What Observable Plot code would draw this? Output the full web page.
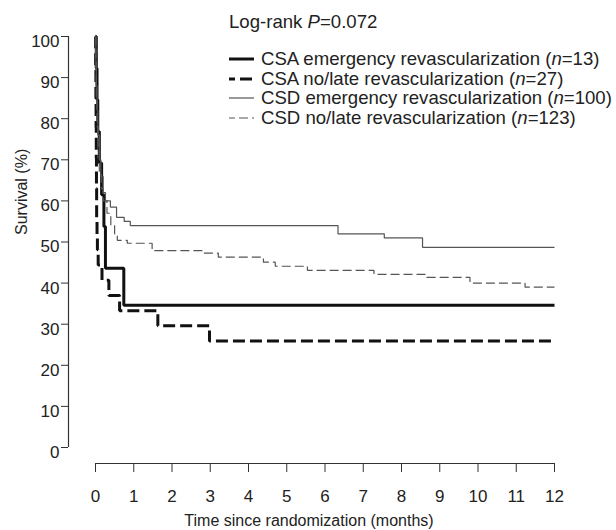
<!DOCTYPE html>
<html>
<head>
<meta charset="utf-8">
<script src="https://cdn.jsdelivr.net/npm/d3@7"></script>
<script src="https://cdn.jsdelivr.net/npm/@observablehq/plot@0.6"></script>
<style>
  html, body { margin: 0; padding: 0; background: #fff; }
  #wrap { position: relative; width: 616px; height: 530px; font-family: "Liberation Sans", Arial, Helvetica, sans-serif; color: #222; }
  #legend { position: absolute; left: 0; top: 0; width: 616px; height: 140px; pointer-events: none; }
  .lg { position: absolute; font-size: 18.6px; line-height: 19px; white-space: nowrap; }
  .sw { position: absolute; }
</style>
</head>
<body>
<div id="wrap"><div id="legend"></div></div>
<script>
// ---- data ----
const xDomain = [0, 12];
const yDomain = [0, 100];
const xTicks = [0, 1, 2, 3, 4, 5, 6, 7, 8, 9, 10, 11, 12];
const yTicks = [0, 10, 20, 30, 40, 50, 60, 70, 80, 90, 100];

const seriesNames = [
  "CSA emergency revascularization",
  "CSA no/late revascularization",
  "CSD emergency revascularization",
  "CSD no/late revascularization"
];
const seriesN = [13, 27, 100, 123];
const logRankP = "0.072";

const csaEmergT = [0, 0.02, 0.04, 0.06, 0.10, 0.16, 0.22, 0.26, 0.74, 12];
const csaEmergS = [100, 92.3, 84.6, 76.9, 69.2, 61.5, 53.8, 43.6, 34.6, 34.6];

const csaLateT = [0, 0.005, 0.01, 0.015, 0.02, 0.025, 0.03, 0.04, 0.05, 0.07, 0.17, 0.35, 0.63, 1.63, 2.98, 12];
const csaLateS = [100, 92.6, 85.2, 77.8, 70.4, 63.0, 55.6, 51.9, 48.1, 44.4, 40.7, 37.0, 33.3, 29.6, 25.9, 25.9];

const csdEmergT = [0, 0.01, 0.02, 0.04, 0.06, 0.10, 0.14, 0.20, 0.26, 0.39, 0.55, 0.75, 0.91, 6.34, 7.55, 8.55, 12];
const csdEmergS = [100, 94, 88, 82, 76, 70, 66, 62, 60, 58.5, 56, 55, 54, 52, 51, 48.7, 48.7];

const csdLateT = [0, 0.01, 0.02, 0.04, 0.07, 0.10, 0.15, 0.20, 0.30, 0.40, 0.50, 0.57, 0.83, 1.48, 2.82, 3.21, 4.39, 4.70, 5.54, 7.28, 8.66, 9.79, 11.23, 12];
const csdLateS = [100, 92, 85, 78, 72, 67, 63, 60, 57, 54, 52, 50.4, 49.7, 47.9, 47.3, 46.3, 45.1, 44.1, 43.1, 42.1, 41.4, 40.0, 39.0, 39.0];

// ---- styles ----
const styles = [
  {stroke: "#111", strokeWidth: 3, dash: null, legendOffset: 0},
  {stroke: "#111", strokeWidth: 3, dash: "12,5", legendOffset: 6},
  {stroke: "#555", strokeWidth: 1.2, dash: null, legendOffset: 0},
  {stroke: "#555", strokeWidth: 1.2, dash: "9,4", legendOffset: 3}
];

const toRows = (T, S) => T.map((t, i) => ({t, s: S[i]}));
const series = [
  toRows(csaEmergT, csaEmergS),
  toRows(csaLateT, csaLateS),
  toRows(csdEmergT, csdEmergS),
  toRows(csdLateT, csdLateS)
];

const font = "'Liberation Sans', Arial, Helvetica, sans-serif";
const axisColor = "#333";

const lineMarks = series.map((rows, i) => Plot.line(rows, {
  x: "t", y: "s", curve: "step-after",
  stroke: styles[i].stroke, strokeWidth: styles[i].strokeWidth,
  strokeDasharray: styles[i].dash, strokeLinejoin: "miter", strokeLinecap: "butt"
}));

const chart = Plot.plot({
  width: 616,
  height: 530,
  marginTop: 36,
  marginBottom: 83,
  marginLeft: 95,
  marginRight: 62,
  style: {fontFamily: font, background: "transparent", color: "#222"},
  x: {domain: xDomain},
  y: {domain: yDomain},
  marks: [
    // y axis line, ticks and labels (offset to the left of the frame)
    Plot.ruleX([xDomain[0]], {y1: yDomain[0], y2: yDomain[1], dx: -27, stroke: axisColor, strokeWidth: 1.2}),
    Plot.axisY({ticks: yTicks, tickSize: 7, fill: "none", dx: -27, label: null, stroke: axisColor}),
    Plot.axisY({ticks: yTicks, tickSize: 0, tickPadding: 9, dx: -27, dy: 5, label: null, fontSize: 17, fill: "#222"}),
    // x axis line, ticks and labels (offset below the frame)
    Plot.ruleY([yDomain[0]], {x1: xDomain[0], x2: xDomain[1], dy: 16, stroke: axisColor, strokeWidth: 1.2}),
    Plot.axisX({ticks: xTicks, tickSize: 9, fill: "none", dy: 16, label: null, stroke: axisColor}),
    Plot.axisX({ticks: xTicks, tickSize: 0, tickPadding: 26, dy: 16, label: null, fontSize: 17, fill: "#222"}),
    // axis titles
    Plot.text(["Survival (%)"], {frameAnchor: "left", rotate: -90, dx: -74, dy: -7, fontSize: 16, fill: "#222"}),
    Plot.text(["Time since randomization (months)"], {frameAnchor: "bottom", dx: -16, dy: 78, fontSize: 16, fill: "#222"}),
    ...lineMarks
  ]
});
const wrap = document.getElementById("wrap");
wrap.insertBefore(chart, wrap.firstChild);

// ---- legend (HTML overlay) ----
const legend = document.getElementById("legend");
const lr = document.createElement("div");
lr.className = "lg";
lr.style.left = "229px";
lr.style.top = "12px";
lr.innerHTML = `Log-rank <i>P</i>=${logRankP}`;
legend.appendChild(lr);

const rowTop = [49, 68.5, 88, 107.5];
seriesNames.forEach((name, i) => {
  const st = styles[i];
  const svg = document.createElementNS("http://www.w3.org/2000/svg", "svg");
  svg.setAttribute("class", "sw");
  svg.setAttribute("width", 27);
  svg.setAttribute("height", 10);
  svg.style.left = "228px";
  svg.style.top = (rowTop[i] + 5) + "px";
  const ln = document.createElementNS("http://www.w3.org/2000/svg", "line");
  ln.setAttribute("x1", 1); ln.setAttribute("x2", 26);
  ln.setAttribute("y1", 5); ln.setAttribute("y2", 5);
  ln.setAttribute("stroke", st.stroke);
  ln.setAttribute("stroke-width", st.strokeWidth);
  if (st.dash) { ln.setAttribute("stroke-dasharray", st.dash); ln.setAttribute("stroke-dashoffset", st.legendOffset); }
  svg.appendChild(ln);
  legend.appendChild(svg);
  const t = document.createElement("div");
  t.className = "lg";
  t.style.left = "261px";
  t.style.top = rowTop[i] + "px";
  t.innerHTML = `${name} (<i>n</i>=${seriesN[i]})`;
  legend.appendChild(t);
});
</script>
</body>
</html>
